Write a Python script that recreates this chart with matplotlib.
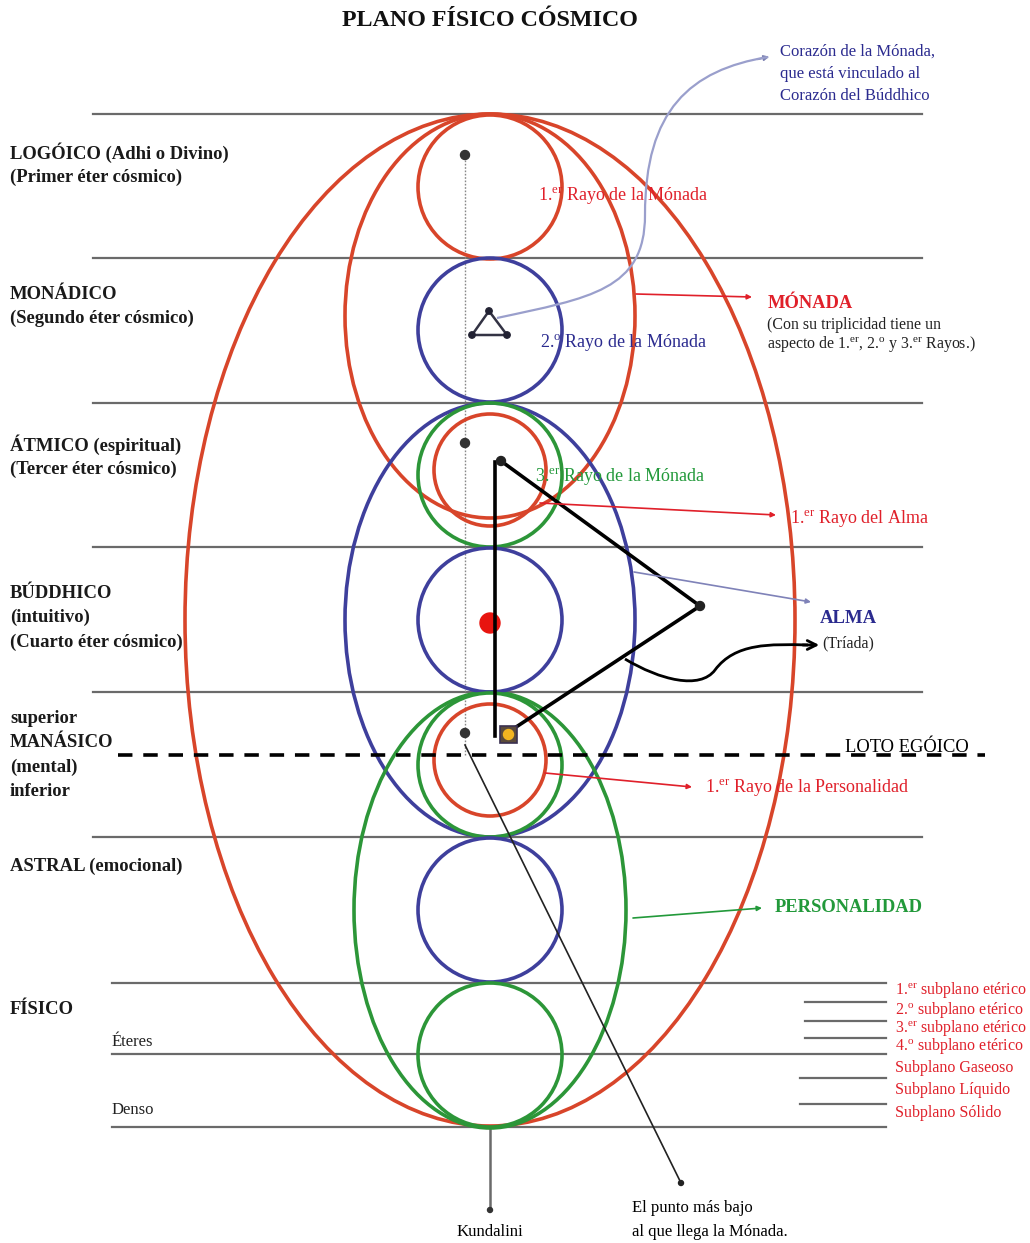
import matplotlib
matplotlib.use("Agg")
import matplotlib.pyplot as plt
from matplotlib.patches import Circle, Ellipse, PathPatch, Rectangle
from matplotlib.path import Path

plt.rcParams['font.family'] = ['Liberation Serif', 'DejaVu Serif']
plt.rcParams['mathtext.fontset'] = 'custom'
plt.rcParams['mathtext.rm'] = 'Liberation Serif'
plt.rcParams['mathtext.it'] = 'Liberation Serif:italic'
plt.rcParams['mathtext.bf'] = 'Liberation Serif:bold'

# ---------------- data ----------------
title = "PLANO FÍSICO CÓSMICO"
plane_lines_y = [114, 258, 403, 547, 692, 837]
lower_lines_y = [983, 1054, 1127]
subplane_lines_y = [1002, 1021, 1038, 1078, 1104]
plane_labels = [
    (["LOGÓICO (Adhi o Divino)", "(Primer éter cósmico)"], 153),
    (["MONÁDICO", "(Segundo éter cósmico)"], 294),
    (["ÁTMICO (espiritual)", "(Tercer éter cósmico)"], 445),
    (["BÚDDHICO", "(intuitivo)", "(Cuarto éter cósmico)"], 593),
    (["superior", "MANÁSICO", "(mental)", "inferior"], 718),
    (["ASTRAL (emocional)"], 866),
    (["FÍSICO"], 1009),
]
sub_labels_left = [("Éteres", 1042), ("Denso", 1110)]
subplane_labels = [
    r"1.$^{\mathrm{er}}$ subplano etérico",
    r"2.$^{\mathrm{o}}$ subplano etérico",
    r"3.$^{\mathrm{er}}$ subplano etérico",
    r"4.$^{\mathrm{o}}$ subplano etérico",
    "Subplano Gaseoso",
    "Subplano Líquido",
    "Subplano Sólido",
]
subplane_label_y = [990, 1010, 1028, 1046, 1068, 1090, 1113]
heart_lines = ["Corazón de la Mónada,", "que está vinculado al", "Corazón del Búddhico"]
monada_lines = ["(Con su triplicidad tiene un",
                r"aspecto de 1.$^{\mathrm{er}}$, 2.$^{\mathrm{o}}$ y 3.$^{\mathrm{er}}$ Rayos.)"]

# circles: (center_y, radius, colour key)
circles = [
    (187, 72, 'red'), (330, 72, 'blue'),
    (475, 72, 'green'), (470, 56, 'red'),
    (620, 72, 'blue'),
    (765, 72, 'green'), (760, 56, 'red'),
    (910, 72, 'blue'), (1055, 72, 'green'),
]
# ellipses: (center_y, half-width, half-height, colour key)
ellipses = [
    (620, 305, 506, 'red'),
    (316, 145, 202, 'red'),
    (620, 145, 217, 'blue'),
    (910, 136, 218, 'green'),
]
cx = 490

RED = '#d8452a'
BLUE = '#3e3f9c'
GREEN = '#2c9638'
TRED = '#e0202a'
TBLUE = '#2b2b8f'
TGREEN = '#22993a'
GRAY = '#6a6a6a'
cols = {'red': RED, 'blue': BLUE, 'green': GREEN}

fig = plt.figure(figsize=(10.30, 12.43), dpi=100)
ax = fig.add_axes([0, 0, 1, 1])
ax.set_xlim(0, 1030)
ax.set_ylim(1243, 0)
ax.axis('off')

# plane lines
for y in plane_lines_y:
    ax.plot([93, 922], [y, y], color=GRAY, lw=1.6, zorder=1)
for y in lower_lines_y:
    ax.plot([112, 886], [y, y], color=GRAY, lw=1.6, zorder=1)
for y in subplane_lines_y:
    x0 = 805 if y < 1050 else 800
    ax.plot([x0, 886], [y, y], color=GRAY, lw=1.6, zorder=1)

# ellipses and circles
for (cy, a, b, c) in ellipses:
    ax.add_patch(Ellipse((cx, cy), 2 * a, 2 * b, fill=False, ec=cols[c], lw=2.6, zorder=3))
for (cy, r, c) in circles:
    ax.add_patch(Circle((cx, cy), r, fill=False, ec=cols[c], lw=2.6, zorder=4))

# dotted vertical line
ax.plot([465, 465], [160, 755], color='#888888', lw=1.0, ls=(0, (1.2, 1.2)), zorder=2)
for y in [155, 443, 733]:
    ax.add_patch(Circle((465, y), 4.5, color='#333333', zorder=6))

# red dot
ax.add_patch(Circle((490, 623), 10, color='#e8140f', zorder=6))

# small triangle
tri = [(489, 311), (472, 335), (507, 335), (489, 311)]
ax.plot([p[0] for p in tri], [p[1] for p in tri], color='#333344', lw=1.8, zorder=6)
for p in tri[:3]:
    ax.add_patch(Circle(p, 3.2, color='#222233', zorder=7))

# big black triangle
ax.plot([501, 700, 507], [461, 606, 733], color='black', lw=2.6, zorder=6)
ax.plot([495, 495], [462, 736], color='black', lw=2.6, zorder=6)
ax.add_patch(Circle((501, 461), 4.5, color='#222222', zorder=7))
ax.add_patch(Circle((700, 606), 4.5, color='#222222', zorder=7))
ax.add_patch(Rectangle((500, 726), 17, 17, fc='#5a4a3a', ec='#3a3050', lw=1.2, zorder=7))
ax.add_patch(Circle((508.5, 734.5), 5, color='#f2b420', zorder=8))

# dashed loto egoico line
ax.plot([118, 985], [755, 755], color='black', lw=2.6, ls=(0, (4, 3)), zorder=5)
ax.text(845, 747, "LOTO EGÓICO", fontsize=13.3, color='black', va='center', ha='left', zorder=9)

# line to lowest point
ax.plot([465, 681], [745, 1183], color='#222222', lw=1.2, zorder=5)
ax.add_patch(Circle((681, 1183), 2.5, color='#222222', zorder=6))
# Kundalini line
ax.plot([490, 490], [1127, 1210], color=GRAY, lw=1.8, zorder=2)
ax.add_patch(Circle((490, 1210), 2.5, color='#333333', zorder=6))
ax.text(490, 1232, "Kundalini", fontsize=12, ha='center', va='center')
ax.text(632, 1208, "El punto más bajo", fontsize=12, ha='left', va='center')
ax.text(632, 1232, "al que llega la Mónada.", fontsize=12, ha='left', va='center')

# curve from small triangle to heart text
verts = [(497, 318), (590, 298), (645, 290), (645, 215),
         (645, 110), (690, 70), (768, 57)]
codes = [Path.MOVETO, Path.CURVE4, Path.CURVE4, Path.CURVE4,
         Path.CURVE4, Path.CURVE4, Path.CURVE4]
ax.add_patch(PathPatch(Path(verts, codes), fill=False, ec='#9a9fcc', lw=1.6, zorder=5))
ax.annotate("", xy=(772, 56), xytext=(755, 60),
            arrowprops=dict(arrowstyle='-|>', color='#7a7fb0', lw=1.2, mutation_scale=8))
for i, line in enumerate(heart_lines):
    ax.text(780, 52 + 22 * i, line, fontsize=12, color=TBLUE, ha='left', va='center')

# pointer lines
def pointer(x0, y0, x1, y1, color, lw=1.2):
    ax.annotate("", xy=(x1, y1), xytext=(x0, y0),
                arrowprops=dict(arrowstyle='-|>', color=color, lw=lw, mutation_scale=7,
                                shrinkA=0, shrinkB=0), zorder=6)

pointer(636, 294, 752, 297, TRED)
ax.text(768, 303, "MÓNADA", fontsize=13.3, color=TRED, weight='bold', ha='left', va='center')
for i, line in enumerate(monada_lines):
    ax.text(767, 325 + 18.5 * i, line, fontsize=11.4, color='#222222', ha='left', va='center')

pointer(540, 503, 776, 515, TRED)
ax.text(790, 518, r"1.$^{\mathrm{er}}$ Rayo del Alma", fontsize=13, color=TRED, ha='left', va='center')

pointer(634, 572, 811, 602, '#7f82b8')
ax.text(820, 618, "ALMA", fontsize=13.5, color=TBLUE, weight='bold', ha='left', va='center')

# black curved arrow to (Tríada)
verts2 = [(625, 659), (660, 680), (700, 690), (715, 670),
          (735, 643), (770, 644), (808, 645)]
ax.add_patch(PathPatch(Path(verts2, codes), fill=False, ec='black', lw=2.0, zorder=6))
ax.annotate("", xy=(822, 645), xytext=(800, 645),
            arrowprops=dict(arrowstyle='->', color='black', lw=2.0, mutation_scale=16), zorder=6)
ax.text(822, 643, "(Tríada)", fontsize=11.5, color='#222222', ha='left', va='center')

pointer(545, 773, 692, 787, TRED)
ax.text(705, 787, r"1.$^{\mathrm{er}}$ Rayo de la Personalidad", fontsize=13, color=TRED, ha='left', va='center')

pointer(633, 918, 762, 908, TGREEN)
ax.text(775, 907, "PERSONALIDAD", fontsize=13.3, color=TGREEN, weight='bold', ha='left', va='center')

# ray labels
ax.text(538, 195, r"1.$^{\mathrm{er}}$ Rayo de la Mónada", fontsize=13, color=TRED, ha='left', va='center', zorder=8)
ax.text(540, 342, r"2.$^{\mathrm{o}}$ Rayo de la Mónada", fontsize=13, color=TBLUE, ha='left', va='center', zorder=8)
ax.text(535, 476, r"3.$^{\mathrm{er}}$ Rayo de la Mónada", fontsize=13, color=TGREEN, ha='left', va='center', zorder=8)

# left labels
for lines, y in plane_labels:
    for i, line in enumerate(lines):
        ax.text(10, y + 24.5 * i, line, fontsize=13.4, weight='bold', color='#1a1a1a',
                ha='left', va='center')
for txt, y in sub_labels_left:
    ax.text(112, y, txt, fontsize=12, color='#222222', ha='left', va='center')

# subplane labels
for txt, y in zip(subplane_labels, subplane_label_y):
    ax.text(895, y, txt, fontsize=11.5, color=TRED, ha='left', va='center')

# title
ax.text(490, 20, title, fontsize=17.3, weight='bold', ha='center', va='center', color='#111111')

fig.savefig("out.png", dpi=100, facecolor='white')
